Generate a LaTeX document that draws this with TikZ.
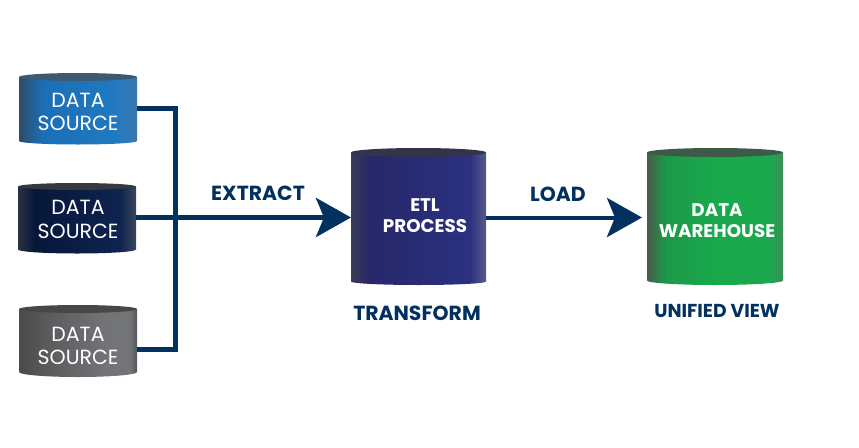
\documentclass[tikz,border=0pt]{standalone}
\usepackage{fontspec}
\setmainfont{Poppins}
\usepackage{tikz}
\usetikzlibrary{arrows.meta}
\definecolor{linenavy}{HTML}{02305F}
\definecolor{b0}{HTML}{2F4B69}\definecolor{b1}{HTML}{1B6FB6}\definecolor{b2}{HTML}{2079C0}\definecolor{b3}{HTML}{3A78B0}\definecolor{bt}{HTML}{3D5A72}
\definecolor{n0}{HTML}{2A3342}\definecolor{n1}{HTML}{06173A}\definecolor{n2}{HTML}{0F2350}\definecolor{n3}{HTML}{3A4558}\definecolor{nt}{HTML}{353A40}
\definecolor{g0}{HTML}{4A4A4A}\definecolor{g1}{HTML}{5A5B5D}\definecolor{g2}{HTML}{727477}\definecolor{g3}{HTML}{55575A}\definecolor{gt}{HTML}{474747}
\definecolor{e0}{HTML}{3A3A55}\definecolor{e1}{HTML}{27286A}\definecolor{e2}{HTML}{2B3180}\definecolor{e3}{HTML}{555A88}\definecolor{et}{HTML}{33344A}
\definecolor{w0}{HTML}{4A5A4E}\definecolor{w1}{HTML}{1B9A49}\definecolor{w2}{HTML}{1AA84C}\definecolor{w3}{HTML}{3C9058}\definecolor{wt}{HTML}{3D5A48}
\pgfdeclarehorizontalshading{canblue}{100bp}{color(0bp)=(b0); color(25bp)=(b0); color(35bp)=(b1); color(65bp)=(b2); color(75bp)=(b3); color(100bp)=(b3)}
\pgfdeclarehorizontalshading{cannavy}{100bp}{color(0bp)=(n0); color(25bp)=(n0); color(32bp)=(n1); color(68bp)=(n2); color(75bp)=(n3); color(100bp)=(n3)}
\pgfdeclarehorizontalshading{cangray}{100bp}{color(0bp)=(g0); color(25bp)=(g0); color(37bp)=(g1); color(62bp)=(g2); color(72bp)=(g2); color(75bp)=(g3); color(100bp)=(g3)}
\pgfdeclarehorizontalshading{canindigo}{100bp}{color(0bp)=(e0); color(25bp)=(e0); color(32bp)=(e1); color(69bp)=(e2); color(75bp)=(e3); color(100bp)=(e3)}
\pgfdeclarehorizontalshading{cangreen}{100bp}{color(0bp)=(w0); color(25bp)=(w0); color(32bp)=(w1); color(50bp)=(w2); color(70bp)=(w2); color(75bp)=(w3); color(100bp)=(w3)}
% node name, shading, cap colour, half width, cap radius, bottom radius
\newcommand{\drawcan}[6]{
  \shade [shading=#2] (#1.north west) -- (#1.south west) arc [start angle=180, end angle=360, x radius=#4, y radius=#6] -- (#1.north east) -- cycle;
  \fill [#3] (#1.north) circle [x radius=#4, y radius=#5];
}
\tikzset{
  can/.style n args={2}{rectangle, inner sep=0pt, outer sep=0pt, minimum width=#1, minimum height=#2},
  thinlabel/.style={text=white, align=center, font=\fontsize{20.5}{23.5}\selectfont},
  boldlabel/.style={text=white, align=center, font=\fontsize{18.3}{21.5}\selectfont\bfseries},
  caption/.style={text=linenavy, font=\fontsize{20.4}{22}\selectfont\bfseries},
  wire/.style={draw=linenavy, line width=5pt},
  arrow/.style={draw=linenavy, line width=5pt, -{Stealth[length=35pt, width=39pt, inset=8pt]}}
}
\begin{document}
\begin{tikzpicture}[x=1pt, y=-1pt]
\useasboundingbox (0,0) rectangle (859,447);

\node [can={118pt}{64pt}] (src1) at (78,109) {};
\node [can={118pt}{63pt}] (src2) at (77,218) {};
\node [can={118pt}{63pt}] (src3) at (78,340.5) {};
\node [can={135pt}{129pt}] (etl) at (418.5,217) {};
\node [can={136pt}{128pt}] (dw) at (715,216.5) {};

\drawcan{src1}{canblue}{bt}{59pt}{4pt}{3.5pt}
\drawcan{src2}{cannavy}{nt}{59pt}{3.5pt}{4pt}
\drawcan{src3}{cangray}{gt}{59pt}{4pt}{5pt}
\drawcan{etl}{canindigo}{et}{67.5pt}{4.5pt}{3.5pt}
\drawcan{dw}{cangreen}{wt}{68pt}{4.5pt}{4.5pt}

\node [thinlabel] (src1text) at (78,112) {DATA\\SOURCE};
\node [thinlabel] (src2text) at (78,219.5) {DATA\\SOURCE};
\node [thinlabel] (src3text) at (78,346) {DATA\\SOURCE};
\node [boldlabel] (etltext) at (425,215.5) {ETL\\PROCESS};
\node [boldlabel] (dwtext) at (717,220.5) {DATA\\WAREHOUSE};

\node [caption] (extract) at (258,193) {EXTRACT};
\node [caption] (load) at (558,194) {LOAD};
\node [caption] (transform) at (417,313) {TRANSFORM};
\node [caption, font=\fontsize{18.7}{22}\selectfont\bfseries] (view) at (717,311) {UNIFIED VIEW};

\coordinate (joint) at (175,217.5);
\coordinate (dwtip) at (642,217.5);

\draw [wire] (src1.east |- 0,108.5) -| (joint);
\draw [wire] (src3.east |- 0,349) -| (joint);
\draw [wire] (src2.east |- joint) -- (joint);
\draw [arrow] (joint) -- (etl.west |- joint);
\draw [arrow, line width=4pt] (etl.east |- joint) -- (dwtip);
\end{tikzpicture}
\end{document}
